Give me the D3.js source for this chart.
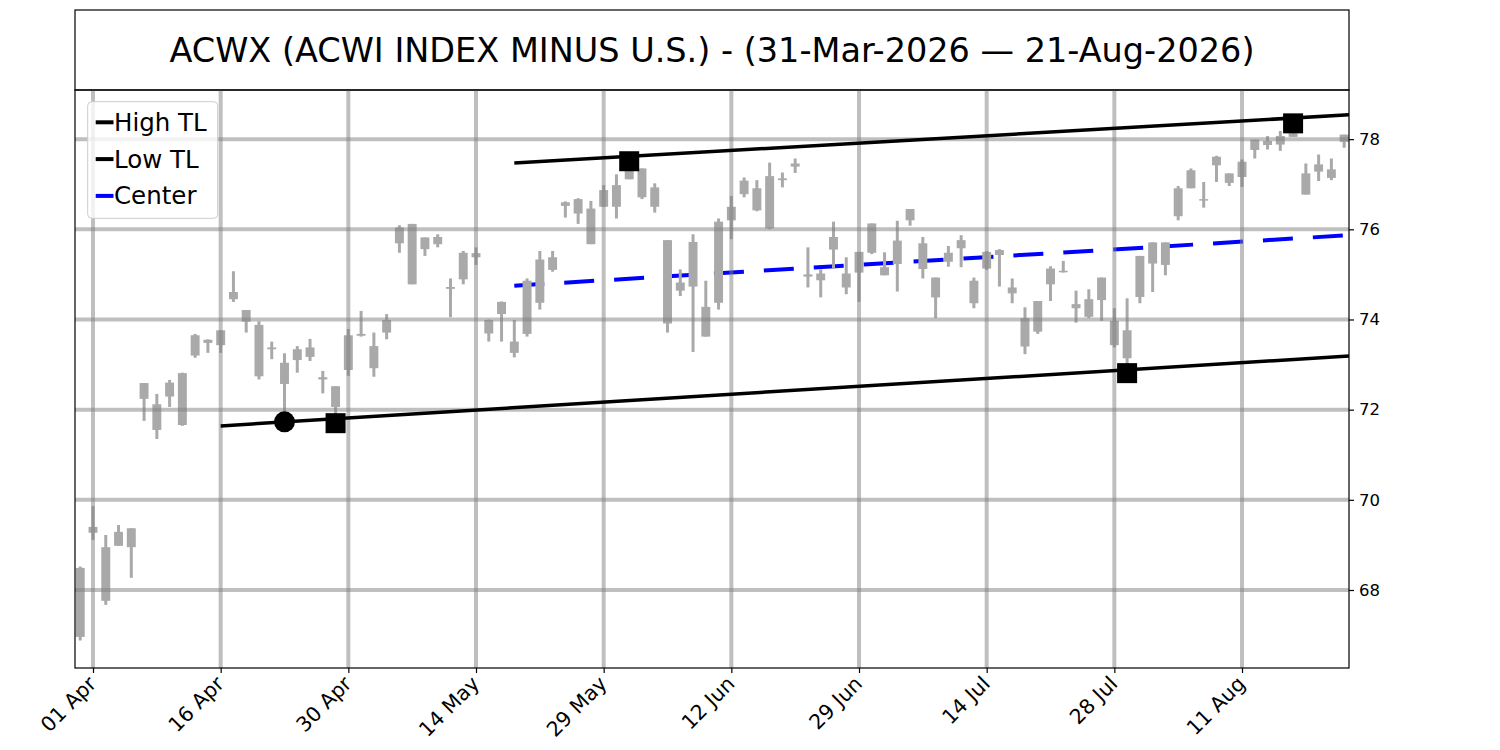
<!DOCTYPE html>
<html>
<head>
<meta charset="utf-8">
<script src="https://cdn.jsdelivr.net/npm/d3@7/dist/d3.min.js"></script>
<style>
  body { margin: 0; background: #fff; }
  svg { font-family: "DejaVu Sans", sans-serif; }
</style>
</head>
<body>
<div id="chart"></div>
<script>
// chart data
const chartTitle = "ACWX (ACWI INDEX MINUS U.S.) - (31-Mar-2026 \u2014 21-Aug-2026)";
const firstDay = "2026-03-31", lastDay = "2026-08-21";
const holidays = ["2026-04-03", "2026-05-25", "2026-06-19", "2026-07-03"];

const opens = [
  68.49, 69.27, 67.76, 68.98, 68.95, 72.24, 72.12, 72.29, 71.66, 73.20,
  73.48, 73.43, 74.45, 74.21, 73.88, 73.34, 73.04, 73.10, 73.17, 72.72,
  72.06, 72.88, 73.68, 73.41, 73.71, 75.69, 74.78, 75.82, 75.67, 74.72,
  74.89, 75.47, 73.99, 74.12, 73.51, 73.68, 74.37, 75.10, 76.52, 76.35,
  76.46, 76.50, 76.50, 77.11, 77.35, 76.93, 75.76, 74.64, 74.73, 74.28,
  74.37, 76.20, 76.78, 76.91, 76.02, 77.09, 77.39, 75.00, 75.02, 75.55,
  75.02, 75.50, 75.48, 75.16, 75.23, 76.20, 75.69, 74.93, 75.28, 75.58,
  74.86, 75.13, 75.54, 74.71, 74.03, 73.73, 74.78, 75.08, 74.34, 74.06,
  74.93, 73.97, 73.14, 74.50, 75.24, 75.71, 76.29, 76.91, 76.67, 77.42,
  77.24, 77.16, 77.76, 77.87, 77.88, 78.05, 77.24, 77.28, 77.33, 77.94
];
const highs = [
  68.52, 69.86, 69.22, 69.44, 69.37, 72.59, 72.35, 72.66, 72.82, 73.68,
  73.56, 73.76, 75.07, 74.21, 73.96, 73.51, 73.25, 73.41, 73.57, 72.86,
  72.52, 73.79, 74.19, 73.71, 74.12, 76.09, 76.12, 75.82, 75.89, 74.91,
  75.52, 75.60, 74.00, 74.40, 73.99, 74.91, 75.52, 75.52, 76.62, 76.69,
  76.63, 76.98, 77.22, 77.51, 77.35, 77.02, 75.76, 75.11, 75.89, 74.86,
  76.24, 76.74, 77.15, 77.09, 77.48, 77.26, 77.57, 75.60, 75.11, 76.17,
  75.38, 75.50, 76.13, 75.49, 76.19, 76.45, 75.83, 74.93, 75.63, 75.87,
  74.93, 75.52, 75.56, 74.91, 74.27, 74.41, 75.18, 75.30, 74.64, 74.67,
  74.93, 74.25, 74.47, 75.41, 75.71, 75.71, 76.96, 77.35, 77.05, 77.63,
  77.24, 77.55, 77.99, 78.07, 78.18, 78.35, 77.46, 77.66, 77.57, 78.10
];
const lows = [
  66.88, 69.11, 67.67, 68.98, 68.27, 71.75, 71.35, 72.06, 71.64, 73.15,
  73.26, 73.26, 74.39, 73.71, 72.67, 73.12, 71.73, 72.82, 73.08, 72.36,
  71.70, 72.75, 73.62, 72.73, 73.56, 75.48, 74.78, 75.41, 75.60, 74.05,
  74.78, 75.21, 73.51, 73.51, 73.16, 73.62, 74.22, 75.06, 76.26, 76.12,
  75.67, 76.50, 76.24, 77.11, 76.67, 76.37, 73.71, 74.52, 73.28, 73.62,
  74.22, 75.78, 76.71, 76.40, 76.00, 76.93, 77.25, 74.71, 74.49, 75.13,
  74.56, 74.39, 75.45, 74.98, 74.62, 76.08, 74.91, 74.03, 75.17, 75.16,
  74.25, 75.10, 74.73, 74.36, 73.23, 73.68, 74.41, 75.04, 73.93, 74.03,
  73.97, 73.38, 72.81, 74.36, 74.61, 74.98, 76.20, 76.91, 76.48, 77.05,
  76.96, 76.94, 77.57, 77.77, 77.74, 78.05, 76.77, 77.07, 77.09, 77.81
];
const closes = [
  66.96, 69.40, 68.95, 69.29, 69.37, 72.59, 71.55, 72.60, 72.81, 73.65,
  73.55, 73.76, 74.61, 73.95, 72.74, 73.38, 72.57, 73.34, 73.38, 72.67,
  72.52, 73.65, 73.64, 72.92, 73.99, 76.04, 76.12, 75.56, 75.83, 74.68,
  75.48, 75.38, 73.69, 74.39, 73.26, 74.86, 75.33, 75.38, 76.60, 76.67,
  75.67, 76.87, 76.98, 77.31, 76.71, 76.50, 73.91, 74.82, 75.72, 73.62,
  76.17, 76.50, 77.08, 76.42, 77.18, 77.13, 77.46, 74.95, 74.87, 75.83,
  74.71, 75.04, 76.13, 74.98, 75.75, 76.45, 75.12, 74.49, 75.48, 75.76,
  74.36, 75.50, 75.43, 74.58, 73.40, 74.41, 75.13, 75.05, 74.25, 74.45,
  74.43, 73.43, 73.76, 75.41, 75.71, 75.21, 76.91, 77.31, 76.65, 77.61,
  77.03, 77.50, 77.99, 77.96, 78.07, 78.13, 76.77, 77.44, 77.14, 78.10
];

// trend lines (trading-day index, price)
const highTLIdx = [34, 99.4], highTLVal = [77.47, 78.54];
const lowTLIdx = [11, 99.4], lowTLVal = [71.64, 73.19];
const centerIdx = [34, 99.4], centerVal = [74.75, 75.87];

// pivot markers
const squareIdx = [20, 43, 82, 95], squareVal = [71.70, 77.51, 72.81, 78.35];
const circleIdx = [16], circleVal = [71.73];

const yTicks = [68, 70, 72, 74, 76, 78];
const tickEvery = 10, tickFirst = 1;

// trading calendar: weekdays without the market holidays
const parse = d3.utcParse("%Y-%m-%d");
const fmtKey = d3.utcFormat("%Y-%m-%d");
const dates = d3.utcDay.range(parse(firstDay), d3.utcDay.offset(parse(lastDay), 1))
  .filter(d => d.getUTCDay() > 0 && d.getUTCDay() < 6 && !holidays.includes(fmtKey(d)));

const candles = dates.map((d, i) => ({
  i, date: d, open: opens[i], high: highs[i], low: lows[i], close: closes[i]
}));

// layout
const W = 1500, H = 750;
const plot = { left: 75, right: 1349, top: 90, bottom: 668 };

const x = d3.scaleLinear().domain([-0.41, 99.38]).range([plot.left, plot.right]);
const y = d3.scaleLinear().domain([66.27, 79.09]).range([plot.bottom, plot.top]);

const svg = d3.select("#chart").append("svg")
  .attr("width", W).attr("height", H);

svg.append("defs").append("clipPath").attr("id", "clip")
  .append("rect")
  .attr("x", plot.left).attr("y", plot.top)
  .attr("width", plot.right - plot.left).attr("height", plot.bottom - plot.top);

// title box
svg.append("rect")
  .attr("x", plot.left).attr("y", 10)
  .attr("width", plot.right - plot.left).attr("height", plot.top - 10)
  .attr("fill", "none").attr("stroke", "#000").attr("stroke-width", 1.2);
svg.append("text")
  .attr("x", (plot.left + plot.right) / 2).attr("y", 50)
  .attr("dy", "0.35em")
  .attr("text-anchor", "middle")
  .style("font-size", "33.5px")
  .text(chartTitle);

const g = svg.append("g").attr("clip-path", "url(#clip)");
const line = d3.line().x(d => x(d[0])).y(d => y(d[1]));

// center line sits below the candles
g.append("path")
  .datum(d3.zip(centerIdx, centerVal))
  .attr("d", line)
  .attr("fill", "none").attr("stroke", "#0000ff")
  .attr("stroke-width", 4).attr("stroke-dasharray", "30,20");

// candles
const bodyW = 0.7;
const cg = g.append("g").attr("class", "candles");
cg.selectAll(".wick")
  .data(candles)
  .enter().append("line")
  .attr("class", "wick")
  .attr("x1", d => x(d.i)).attr("x2", d => x(d.i))
  .attr("y1", d => y(d.high)).attr("y2", d => y(d.low))
  .attr("stroke", "#a9a9a9").attr("stroke-width", 3);
cg.selectAll(".body")
  .data(candles)
  .enter().append("rect")
  .attr("class", "body")
  .attr("x", d => x(d.i - bodyW / 2))
  .attr("width", d => x(d.i + bodyW / 2) - x(d.i - bodyW / 2))
  .attr("y", d => y(Math.max(d.open, d.close)))
  .attr("height", d => Math.max(1.5, Math.abs(y(d.open) - y(d.close))))
  .attr("fill", "#a9a9a9");

// grid (drawn over candles, semi transparent)
const tickIdx = d3.range(tickFirst, candles.length, tickEvery);
const grid = g.append("g").attr("class", "grid")
  .attr("stroke", "#808080").attr("stroke-opacity", 0.5).attr("stroke-width", 4);
grid.selectAll(".gx").data(tickIdx).enter().append("line")
  .attr("x1", d => x(d)).attr("x2", d => x(d))
  .attr("y1", plot.top).attr("y2", plot.bottom);
grid.selectAll(".gy").data(yTicks).enter().append("line")
  .attr("x1", plot.left).attr("x2", plot.right)
  .attr("y1", d => y(d)).attr("y2", d => y(d));

// high / low trend lines
[[highTLIdx, highTLVal], [lowTLIdx, lowTLVal]].forEach(([xs, vs]) => {
  g.append("path")
    .datum(d3.zip(xs, vs))
    .attr("d", line)
    .attr("fill", "none").attr("stroke", "#000").attr("stroke-width", 3.5);
});

// markers
const sq = 20;
g.selectAll(".sq").data(d3.zip(squareIdx, squareVal)).enter().append("rect")
  .attr("x", d => x(d[0]) - sq / 2).attr("y", d => y(d[1]) - sq / 2)
  .attr("width", sq).attr("height", sq).attr("fill", "#000");
g.selectAll(".ci").data(d3.zip(circleIdx, circleVal)).enter().append("circle")
  .attr("cx", d => x(d[0])).attr("cy", d => y(d[1])).attr("r", 10.5)
  .attr("fill", "#000");

// frame
svg.append("rect")
  .attr("x", plot.left).attr("y", plot.top)
  .attr("width", plot.right - plot.left).attr("height", plot.bottom - plot.top)
  .attr("fill", "none").attr("stroke", "#000").attr("stroke-width", 1.2);

// axes
const fmtTick = d3.utcFormat("%d %b");
const xAxis = svg.append("g")
  .attr("transform", `translate(0,${plot.bottom})`)
  .call(d3.axisBottom(x).tickValues(tickIdx).tickSize(5).tickFormat(i => fmtTick(dates[i])));
xAxis.select(".domain").remove();
xAxis.selectAll(".tick line").attr("stroke", "#000").attr("stroke-width", 1.2);
xAxis.selectAll(".tick text")
  .style("font-size", "20.5px")
  .attr("font-family", "DejaVu Sans")
  .attr("text-anchor", "end")
  .attr("fill", "#000")
  .attr("dy", null).attr("y", null)
  .attr("transform", "translate(4,17) rotate(-45)");

const yAxis = svg.append("g")
  .attr("transform", `translate(${plot.right},0)`)
  .call(d3.axisRight(y).tickValues(yTicks).tickSize(5).tickPadding(5));
yAxis.select(".domain").remove();
yAxis.selectAll(".tick line").attr("stroke", "#000").attr("stroke-width", 1.2);
yAxis.selectAll(".tick text")
  .style("font-size", "16.5px")
  .attr("font-family", "DejaVu Sans")
  .attr("fill", "#000");

// legend
const legendItems = [
  { label: "High TL", color: "#000" },
  { label: "Low TL", color: "#000" },
  { label: "Center", color: "#0000ff" }
];
const lg = svg.append("g").attr("class", "legend");
lg.append("rect")
  .attr("x", 87.7).attr("y", 101.7).attr("width", 130).attr("height", 116.6)
  .attr("rx", 4)
  .attr("fill", "#fff").attr("fill-opacity", 0.8)
  .attr("stroke", "#cccccc").attr("stroke-width", 1);
legendItems.forEach((d, i) => {
  const ly = 122.3 + i * 36.8;
  lg.append("line")
    .attr("x1", 95.7).attr("x2", 113.5).attr("y1", ly).attr("y2", ly)
    .attr("stroke", d.color).attr("stroke-width", 4);
  lg.append("text")
    .attr("x", 114).attr("y", ly).attr("dy", "0.35em")
    .style("font-size", "24.5px")
    .text(d.label);
});
</script>
</body>
</html>
